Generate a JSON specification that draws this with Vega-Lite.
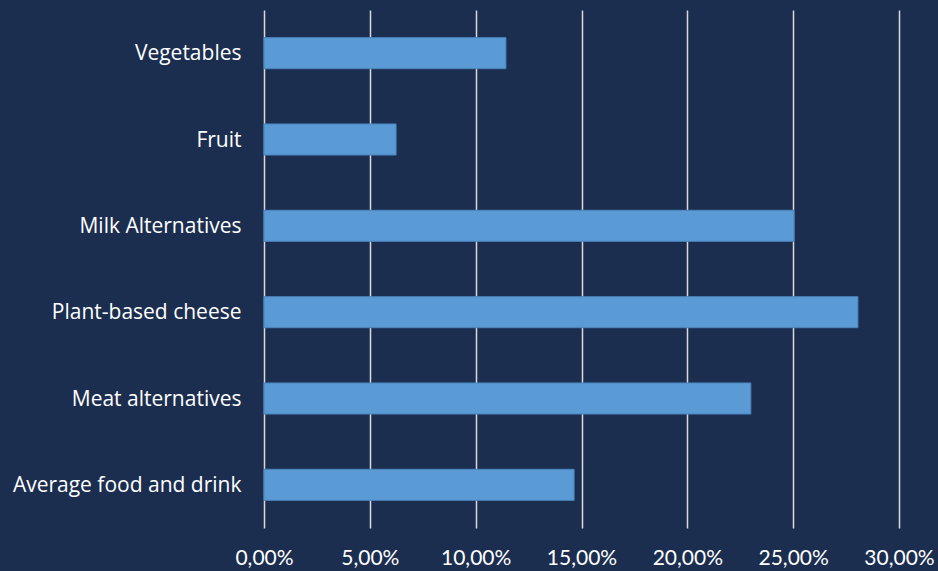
{
  "$schema": "https://vega.github.io/schema/vega-lite/v6.json",
  "autosize": "none",
  "width": 635,
  "height": 518,
  "padding": {"left": 264, "top": 10, "right": 39, "bottom": 43},
  "background": "#1b2e50",
  "data": {"values": [
    {"category": "Vegetables", "value": 0.1143},
    {"category": "Fruit", "value": 0.0624},
    {"category": "Milk Alternatives", "value": 0.2504},
    {"category": "Plant-based cheese", "value": 0.2806},
    {"category": "Meat alternatives", "value": 0.2300},
    {"category": "Average food and drink", "value": 0.1465}
  ]},
  "mark": {"type": "bar", "color": "#5b9bd5", "stroke": "#4a84bb", "strokeWidth": 1},
  "encoding": {
    "y": {
      "field": "category", "type": "nominal", "sort": null,
      "scale": {"paddingInner": 0.64, "paddingOuter": 0.32},
      "axis": {"title": null, "domain": false, "ticks": false, "grid": false,
        "labelColor": "#ffffff", "labelFont": "Open Sans", "labelFontSize": 21,
        "labelPadding": 23, "labelLimit": 300, "labelOffset": 1}
    },
    "x": {
      "field": "value", "type": "quantitative",
      "scale": {"domain": [0, 0.3], "nice": false},
      "axis": {"title": null, "domain": false, "ticks": false,
        "values": [0, 0.05, 0.1, 0.15, 0.2, 0.25, 0.3],
        "grid": true, "gridColor": "#d9d9d9", "gridWidth": 1.5, "gridOpacity": 1,
        "labelExpr": "replace(format(datum.value, '.2%'), '.', ',')",
        "labelColor": "#ffffff", "labelFont": "Lato", "labelFontSize": 21,
        "labelPadding": 19, "labelFlush": false}
    }
  },
  "config": {"view": {"stroke": null}}
}
